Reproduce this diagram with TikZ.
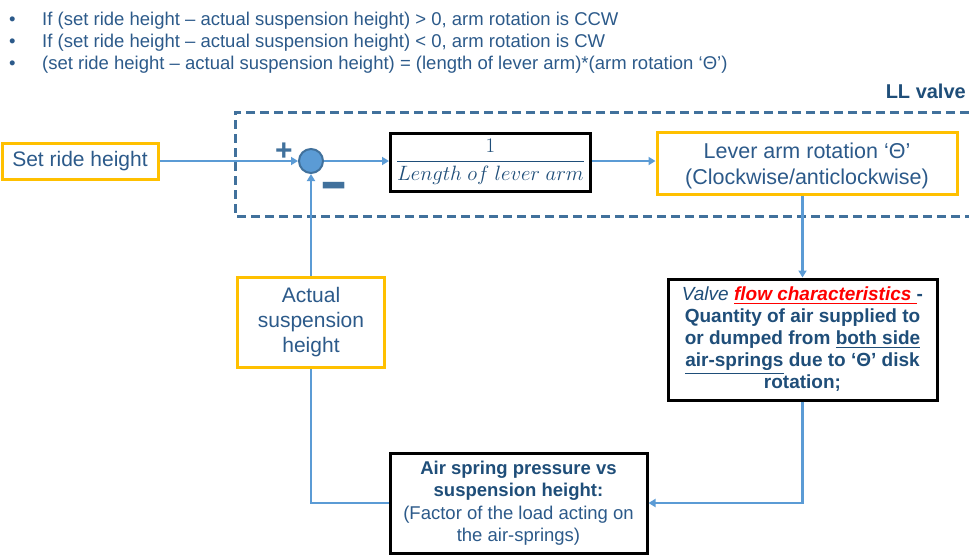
\documentclass[tikz,border=0pt]{standalone}
\usepackage{amsmath}
\usepackage{fontspec}
\setmainfont{Liberation Sans}
\usetikzlibrary{arrows.meta}
\definecolor{txtblue}{HTML}{2C5A8A}
\definecolor{darkblue}{HTML}{1F4E79}
\definecolor{linkblue}{HTML}{5B9BD5}
\definecolor{frameblue}{HTML}{41719C}
\definecolor{boxorange}{HTML}{FFC000}
\tikzset{
  orangebox/.style={draw=boxorange, line width=3pt, fill=white, text=txtblue,
    inner sep=0pt, align=center},
  blackbox/.style={draw=black, line width=3pt, fill=white, text=darkblue,
    inner sep=0pt, align=center},
  link/.style={draw=linkblue, line width=2.4pt},
  flow/.style={link, -{Triangle[length=7pt,width=8pt]}},
  bullettext/.style={anchor=base west, inner sep=0pt, text=txtblue,
    font=\fontsize{18.5}{22}\selectfont},
  signmark/.style={text=frameblue, inner sep=0pt, font=\bfseries}
}
\begin{document}
\begin{tikzpicture}[x=1pt, y=-1pt]
\useasboundingbox (0,0) rectangle (969,557);

% notes on the sign convention
\node[bullettext] (b1) at (42,25) {If (set ride height – actual suspension height) > 0, arm rotation is CCW};
\node[bullettext] (b2) at (42,47) {If (set ride height – actual suspension height) < 0, arm rotation is CW};
\node[bullettext] (b3) at (42,69) {(set ride height – actual suspension height) = (length of lever arm)*(arm rotation ‘Θ’)};
\foreach \y/\n in {25/d1,47/d2,69/d3}
  \node[bullettext] (\n) at (9,\y) {•};

% valve boundary
\draw[frameblue, line width=3pt, dash pattern=on 9pt off 5pt]
  (969,112) -- (235,112) -- (235,216) -- (969,216);
\node[anchor=base east, inner sep=0pt, text=darkblue,
  font=\bfseries\fontsize{20}{22}\selectfont] (llvalve) at (966,98) {LL valve};

% blocks
\node[orangebox, minimum width=156pt, minimum height=36pt,
  font=\fontsize{21}{24}\selectfont] (set) at (80,161) {Set ride height};
\node[circle, draw=frameblue, line width=2pt, fill=linkblue, minimum size=24pt,
  inner sep=0pt] (sum) at (311,161) {};
\node[signmark, font=\bfseries\fontsize{30}{30}\selectfont] (plus) at (284,152) {+};
\node[signmark] (minus) at (334,194) {\scalebox{1.65}[2.3]{\fontsize{26}{26}\selectfont −}};
\node[blackbox, minimum width=200pt, minimum height=58pt,
  font=\fontsize{19.5}{22}\selectfont] (gain) at (490.5,162)
  {$\dfrac{1}{Length\ of\ lever\ arm}$};
\node[orangebox, minimum width=300pt, minimum height=62pt,
  font=\fontsize{21.5}{26}\selectfont] (lever) at (807,163)
  {\rule{0pt}{21pt}Lever arm rotation ‘Θ’\\(Clockwise/anticlockwise)};
\node[blackbox, minimum width=269pt, minimum height=121pt,
  font=\fontsize{19}{22}\selectfont] (valve) at (802.5,339.5)
  {\itshape Valve \textcolor{red}{\bfseries\underline{flow characteristics }}\upshape\bfseries -\\
   \bfseries Quantity of air supplied to\\
   \bfseries or dumped from \underline{both side}\\
   \bfseries \underline{air-springs} due to ‘Θ’ disk\\
   \bfseries rotation;};
\node[blackbox, minimum width=257pt, minimum height=100pt,
  font=\fontsize{18.5}{22.5}\selectfont] (air) at (518.5,503)
  {\bfseries Air spring pressure vs\\
   \bfseries suspension height:\\
   \color{txtblue}(Factor of the load acting on\\
   \color{txtblue}the air-springs)};
\node[orangebox, minimum width=147pt, minimum height=90pt,
  font=\fontsize{21}{25}\selectfont] (actual) at (311,322)
  {Actual\\suspension\\height};

% signal flow
\draw[flow] (set.east) -- (sum.west);
\draw[flow] (sum.east) -- (sum.east -| gain.west);
\draw[flow] (sum.east -| gain.east) -- (sum.east -| lever.west);
\draw[flow] (lever.south -| valve.north) -- (valve.north);
\draw[flow] (valve.south) -- (valve.south |- air.east) -- (air.east);
\draw[link] (air.west) -- (air.west -| actual.south) -- (actual.south);
\draw[flow] (actual.north) -- (sum.south);
\end{tikzpicture}
\end{document}
